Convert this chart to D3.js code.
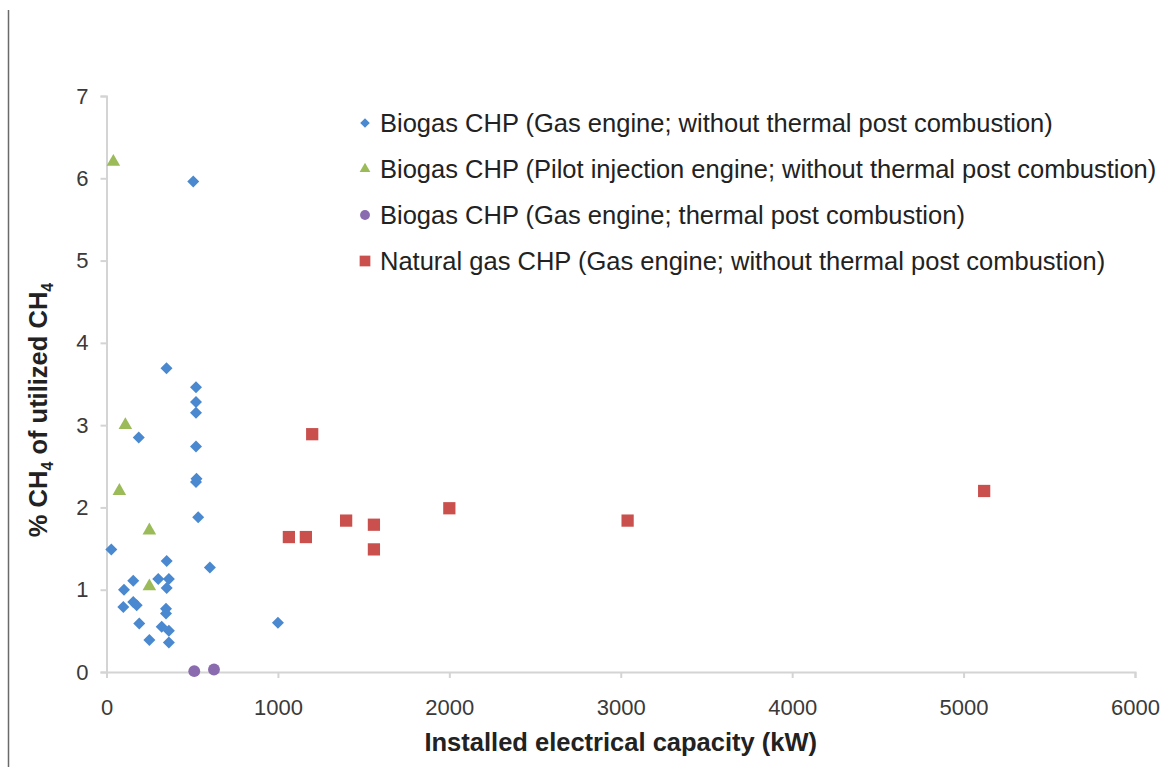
<!DOCTYPE html>
<html>
<head>
<meta charset="utf-8">
<script src="https://cdn.jsdelivr.net/npm/d3@7"></script>
<style>
  body { margin: 0; background: #fff; }
  svg text { font-family: Arial, "Liberation Sans", sans-serif; }
  .axis path, .axis line { stroke: #d4d4d4; stroke-width: 2; }
  .axis text { fill: #3a3a3a; font-size: 22px; }
</style>
</head>
<body>
<div id="chart"></div>
<script>
// data
const biogasGasX = [506, 350, 522, 522, 522, 188, 522, 522, 525, 535, 28, 351, 603, 156, 302, 364, 351, 102, 98, 156, 176, 347, 347, 191, 322, 364, 250, 364, 1000];
const biogasGasY = [5.96, 3.69, 3.46, 3.28, 3.15, 2.85, 2.74, 2.31, 2.35, 1.88, 1.49, 1.35, 1.27, 1.11, 1.13, 1.13, 1.02, 1.0, 0.79, 0.85, 0.81, 0.77, 0.71, 0.59, 0.55, 0.5, 0.39, 0.36, 0.6];

const biogasPilotX = [40, 110, 75, 250, 250];
const biogasPilotY = [6.2, 3.0, 2.2, 1.72, 1.04];

const biogasPostX = [512, 627];
const biogasPostY = [0.01, 0.03];

const naturalGasX = [1064, 1163, 1200, 1398, 1560, 1560, 2000, 3040, 5120];
const naturalGasY = [1.64, 1.64, 2.89, 1.84, 1.79, 1.49, 1.99, 1.84, 2.2];

const seriesNames = [
  "Biogas CHP (Gas engine; without thermal post combustion)",
  "Biogas CHP (Pilot injection engine; without thermal post combustion)",
  "Biogas CHP (Gas engine; thermal post combustion)",
  "Natural gas CHP (Gas engine; without thermal post combustion)"
];
const xTicks = [0, 1000, 2000, 3000, 4000, 5000, 6000];
const yTicks = [0, 1, 2, 3, 4, 5, 6, 7];

/** CONSTANTS */
const W = 1169, H = 767;
let margin = { top: 96, left: 106.5, right: 34, bottom: 95 };

const series = [
  { name: seriesNames[0], xs: biogasGasX, ys: biogasGasY, color: "#4a89cf", shape: "diamond" },
  { name: seriesNames[1], xs: biogasPilotX, ys: biogasPilotY, color: "#9bbb59", shape: "triangle" },
  { name: seriesNames[2], xs: biogasPostX, ys: biogasPostY, color: "#8a6bb0", shape: "circle" },
  { name: seriesNames[3], xs: naturalGasX, ys: naturalGasY, color: "#c9504d", shape: "square" }
];

/** SCALES */
const xScale = d3.scaleLinear().domain([0, 6000]).range([margin.left, W - margin.right]);
const yScale = d3.scaleLinear().domain([0, 7]).range([H - margin.bottom, margin.top]);

// marker paths
function markerPath(shape, big) {
  if (shape === "diamond") return d3.symbol(d3.symbolSquare, big ? 72 : 46)();
  if (shape === "triangle") return d3.symbol(d3.symbolTriangle, big ? 80 : 50)();
  if (shape === "circle") return d3.symbol(d3.symbolCircle, big ? 110 : 76)();
  return d3.symbol(d3.symbolSquare, big ? 150 : 115)();
}

const svg = d3.select("#chart").append("svg")
  .attr("width", W)
  .attr("height", H);

// left frame line
svg.append("line")
  .attr("x1", 8.5).attr("x2", 8.5)
  .attr("y1", 10).attr("y2", H)
  .attr("stroke", "#6a6a6a")
  .attr("stroke-width", 1.5);

/** AXIS */
const xAxis = d3.axisBottom(xScale).tickValues(xTicks).tickSize(6).tickPadding(21).tickFormat(d3.format("d"));
const yAxis = d3.axisLeft(yScale).tickValues(yTicks).tickSize(6).tickPadding(12).tickFormat(d3.format("d"));

svg.append("g")
  .attr("class", "axis")
  .attr("transform", `translate(0,${yScale(0)})`)
  .call(xAxis);

svg.append("g")
  .attr("class", "axis")
  .attr("transform", `translate(${xScale(0)},0)`)
  .call(yAxis);

// axis titles
svg.append("text")
  .attr("x", (xScale(0) + xScale(6000)) / 2)
  .attr("y", 751)
  .attr("text-anchor", "middle")
  .attr("font-size", 25.5)
  .attr("font-weight", "bold")
  .attr("fill", "#222")
  .text("Installed electrical capacity (kW)");

const yTitle = svg.append("text")
  .attr("transform", "translate(38,410) rotate(-90)")
  .attr("text-anchor", "middle")
  .attr("dy", "0.35em")
  .attr("font-size", 25.5)
  .attr("font-weight", "bold")
  .attr("fill", "#222");
yTitle.append("tspan").text("% CH");
yTitle.append("tspan").attr("font-size", 16).attr("dy", 6).text("4");
yTitle.append("tspan").attr("dy", -6).text(" of utilized CH");
yTitle.append("tspan").attr("font-size", 16).attr("dy", 6).text("4");

// points
series.forEach((s) => {
  const pts = s.xs.map((x, i) => ({ x: x, y: s.ys[i] }));
  svg.append("g")
    .selectAll("path")
    .data(pts)
    .join("path")
    .attr("d", markerPath(s.shape, true))
    .attr("transform", (d) => `translate(${xScale(d.x)},${yScale(d.y)})` + (s.shape === "diamond" ? " rotate(45)" : ""))
    .attr("fill", s.color);
});

// legend
const legend = svg.append("g").attr("transform", "translate(365,123)");
const rows = legend.selectAll("g")
  .data(series)
  .join("g")
  .attr("transform", (d, i) => `translate(0,${i * 46})`);

rows.append("path")
  .attr("d", (d) => markerPath(d.shape, false))
  .attr("transform", (d) => (d.shape === "diamond" ? "rotate(45)" : ""))
  .attr("fill", (d) => d.color);

rows.append("text")
  .attr("x", 15)
  .attr("dy", "0.35em")
  .attr("font-size", 25.5)
  .attr("fill", "#222")
  .text((d) => d.name);
</script>
</body>
</html>
